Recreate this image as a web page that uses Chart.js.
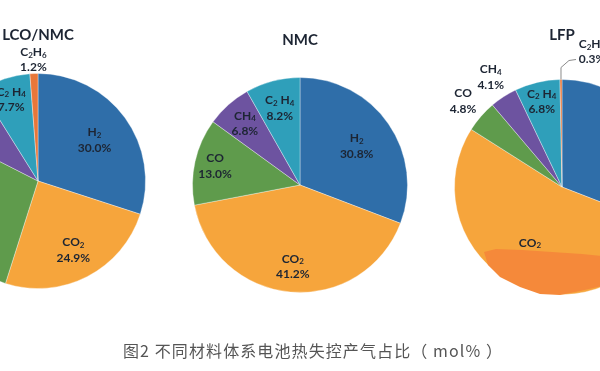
<!DOCTYPE html>
<html>
<head>
<meta charset="utf-8">
<script src="https://cdn.jsdelivr.net/npm/chart.js@4.4.1/dist/chart.umd.min.js"></script>
<style>
  html, body { margin: 0; padding: 0; background: #fff; }
  body { width: 600px; height: 371px; overflow: hidden; position: relative; }
  .pie { position: absolute; width: 320px; height: 320px; }
  #caption { position: absolute; left: 0; width: 626px; top: 338px; text-align: center;
             font: 16px "Noto Sans CJK SC", sans-serif; letter-spacing: 1.1px; color: #555; white-space: nowrap; }
</style>
</head>
<body>
<div class="pie" style="left:-122px; top:21px"><canvas id="pieLco" width="320" height="320"></canvas></div>
<div class="pie" style="left:140px; top:25px"><canvas id="pieNmc" width="320" height="320"></canvas></div>
<div class="pie" style="left:402px; top:27px"><canvas id="pieLfp" width="320" height="320"></canvas></div>
<div id="caption">图2 不同材料体系电池热失控产气占比（ mol% ）</div>

<script>
// gas names, "_" marks a subscript digit
const gasesLco = ['H_2', 'CO_2', 'CO', 'CH_4', 'C_2 H_4', 'C_2H_6'];
const valuesLco = [30.0, 24.9, 27.6, 8.6, 7.7, 1.2];

const gasesNmc = ['H_2', 'CO_2', 'CO', 'CH_4', 'C_2 H_4'];
const valuesNmc = [30.8, 41.2, 13.0, 6.8, 8.2];

const gasesLfp = ['H_2', 'CO_2', 'CO', 'CH_4', 'C_2 H_4', 'C_2H_6'];
const valuesLfp = [30.9, 53.1, 4.8, 4.1, 6.8, 0.3];

const gasColors = {
    'H_2': '#2f6ea9',
    'CO_2': '#f6a53c',
    'CO': '#5f9b4c',
    'CH_4': '#6d53a0',
    'C_2 H_4': '#2f9fba',
    'C_2H_6': '#e8773a'
};

// label distance from centre, as a fraction of the radius
const placeLco = [{ r: 0.65 }, { r: 0.72 }, { r: 0.72 }, { r: 0.75 }, { r: 0.8 }, { r: 1.13 }];
const placeNmc = [{ r: 0.64 }, { r: 0.76 }, { r: 0.81 }, { r: 0.77 }, { r: 0.74 }];
const placeLfp = [{ r: 0.65 }, { r: 0.66 }, { r: 1.22 }, { r: 1.22 }, { r: 0.82 }, { leader: true }];

function drawGasName(ctx, name, x, y) {
    const parts = [];
    for (let i = 0; i < name.length; i++) {
        if (name[i] === '_') { parts.push([name[i + 1], true]); i++; }
        else parts.push([name[i], false]);
    }
    let w = 0;
    parts.forEach(p => {
        ctx.font = p[1] ? 'bold 8px Lato' : 'bold 12px Lato';
        w += ctx.measureText(p[0]).width;
    });
    let px = x - w / 2;
    ctx.textAlign = 'left';
    parts.forEach(p => {
        ctx.font = p[1] ? 'bold 8px Lato' : 'bold 12px Lato';
        ctx.fillText(p[0], px, p[1] ? y + 3 : y);
        px += ctx.measureText(p[0]).width;
    });
}

const pieText = {
    id: 'pieText',
    afterDatasetsDraw(chart, args, opts) {
        const ctx = chart.ctx;
        const arcs = chart.getDatasetMeta(0).data;
        const ds = chart.data.datasets[0];
        const cx = arcs[0].x, cy = arcs[0].y, r = arcs[0].outerRadius;
        ctx.save();
        ctx.fillStyle = '#1d2533';
        ctx.textBaseline = 'middle';
        ctx.textAlign = 'center';
        ctx.font = 'bold 15px Lato';
        ctx.fillText(opts.title, cx, cy - opts.titleGap);

        arcs.forEach((arc, i) => {
            const place = opts.places[i];
            const mid = (arc.startAngle + arc.endAngle) / 2;
            let x, y;
            if (place.leader) {
                const ex = cx + Math.cos(mid) * r, ey = cy + Math.sin(mid) * r;
                ctx.strokeStyle = '#8a8a8a';
                ctx.lineWidth = 1;
                ctx.beginPath();
                ctx.moveTo(ex, ey);
                ctx.lineTo(ex, ey - 12);
                ctx.lineTo(ex + 8, ey - 19);
                ctx.lineTo(ex + 15, ey - 20);
                ctx.stroke();
                x = ex + 31; y = ey - 28;
            } else {
                x = cx + Math.cos(mid) * r * place.r;
                y = cy + Math.sin(mid) * r * place.r;
            }
            ctx.fillStyle = '#1d2533';
            drawGasName(ctx, chart.data.labels[i], x, y - 7.5);
            ctx.font = 'bold 12px Lato';
            ctx.textAlign = 'center';
            ctx.fillText(ds.data[i].toFixed(1) + '%', x, y + 8);
        });

        // orange smear painted over the LFP CO2 value in the source image
        if (opts.smear) {
            const pts = opts.smear;
            ctx.fillStyle = '#f5893a';
            ctx.beginPath();
            ctx.moveTo(cx + pts[0][0], cy + pts[0][1]);
            for (let k = 1; k < pts.length; k++) ctx.lineTo(cx + pts[k][0], cy + pts[k][1]);
            ctx.closePath();
            ctx.fill();
        }
        ctx.restore();
    }
};

function makePie(id, title, titleGap, gases, values, places, smear) {
    return new Chart(document.getElementById(id), {
        type: 'pie',
        data: {
            labels: gases,
            datasets: [{
                data: values,
                backgroundColor: gases.map(g => gasColors[g]),
                borderColor: 'rgba(255,255,255,0.35)',
                borderWidth: 1
            }]
        },
        options: {
            responsive: false,
            animation: false,
            layout: { padding: 52 },
            plugins: {
                legend: { display: false },
                tooltip: { enabled: false },
                pieText: { title: title, titleGap: titleGap, places: places, smear: smear }
            }
        },
        plugins: [pieText]
    });
}

makePie('pieLco', 'LCO/NMC', 146, gasesLco, valuesLco, placeLco);
makePie('pieNmc', 'NMC', 145, gasesNmc, valuesNmc, placeNmc);
makePie('pieLfp', 'LFP', 152, gasesLfp, valuesLfp, placeLfp,
    [[-78, 65], [-66, 62], [-40, 63], [-10, 65], [20, 67], [40, 69], [40, 99], [18, 104], [-2, 108],
     [-22, 107], [-42, 100], [-62, 90], [-74, 78]]);
</script>
</body>
</html>
